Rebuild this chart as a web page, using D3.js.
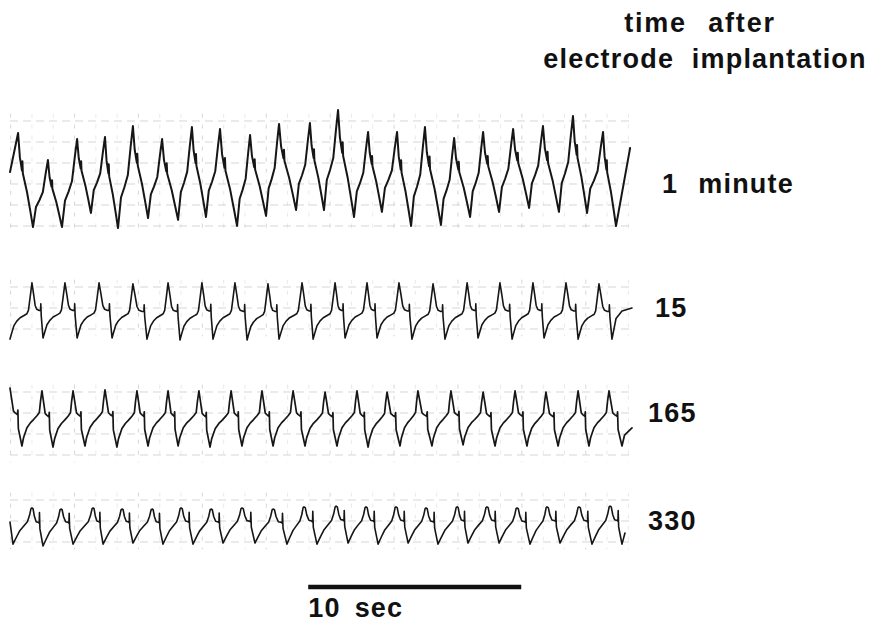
<!DOCTYPE html>
<html>
<head>
<meta charset="utf-8">
<script src="https://cdn.jsdelivr.net/npm/d3@7"></script>
<style>
  html, body { margin: 0; padding: 0; background: #fff; }
  svg { display: block; }
  text { font-family: "Liberation Sans", Arial, Helvetica, sans-serif; font-weight: bold; fill: #111; white-space: pre; }
</style>
</head>
<body>
<svg id="chart" width="873" height="626"></svg>
<script>
// ---------------- DATA (time in seconds, amplitude in chart divisions) ----------------
// Trace labels (time after electrode implantation)
const traceLabels = ["1", "15", "165", "330"];
const labelUnit = "minute";

// Trace 1 : 1 minute
const t1PeakT   = [0.38, 1.78, 3.15, 4.46, 5.77, 7.14, 8.54, 9.86, 11.27, 12.63, 14.08, 15.40, 16.81, 18.17, 19.48, 20.85, 22.21, 23.62, 25.02, 26.43, 27.84];
const t1PeakV   = [4.43, 3.14, 4.14, 4.24, 4.76, 4.14, 4.71, 4.62, 4.33, 4.86, 4.90, 5.52, 4.48, 4.48, 4.71, 4.19, 4.48, 4.62, 4.76, 5.24, 4.48];
const t1TroughT = [1.08, 2.44, 3.80, 5.07, 6.48, 7.89, 9.20, 10.66, 12.02, 13.43, 14.74, 16.15, 17.46, 18.83, 20.23, 21.60, 22.96, 24.37, 25.77, 27.09, 28.45];
const t1TroughV = [-0.05, -0.05, 0.62, -0.10, 0.38, 0.29, 0.43, 0.00, 0.48, 0.76, 0.76, 0.43, 0.67, 0.00, 0.05, 0.43, 0.67, 0.86, 0.67, 0.62, 0.00];
const t1Start = [0.00, 2.57];
const t1End   = [29.11, 3.71];

// Trace 2 : 15 minutes
const t2PeakT   = [1.03, 2.58, 4.18, 5.77, 7.42, 9.01, 10.56, 12.11, 13.71, 15.26, 16.76, 18.26, 19.86, 21.46, 23.00, 24.55, 26.10, 27.65];
const t2PeakV   = [2.20, 2.20, 2.20, 2.15, 2.20, 2.20, 2.20, 2.15, 2.20, 2.20, 2.20, 2.20, 2.15, 2.20, 2.20, 2.20, 2.20, 2.15];
const t2TroughT = [1.55, 3.15, 4.79, 6.43, 7.98, 9.53, 11.13, 12.63, 14.23, 15.73, 17.23, 18.87, 20.42, 21.97, 23.57, 25.07, 26.67, 28.26];
const t2TroughV = [-0.43, -0.43, -0.43, -0.48, -0.52, -0.48, -0.52, -0.48, -0.48, -0.43, -0.43, -0.48, -0.48, -0.43, -0.48, -0.43, -0.48, -0.48];
const t2Start = [0.00, -0.48];
const t2Tail  = [[28.45, 0.50], [28.73, 0.86]];
const t2End   = [29.20, 1.00];

// Trace 3 : 165 minutes
const t3PeakT   = [1.50, 2.96, 4.46, 5.96, 7.42, 8.87, 10.38, 11.83, 13.29, 14.79, 16.29, 17.70, 19.15, 20.70, 22.21, 23.71, 25.16, 26.67, 28.12];
const t3PeakV   = [3.05, 3.05, 3.10, 3.05, 3.05, 3.05, 3.05, 3.05, 3.05, 3.00, 3.05, 3.00, 3.05, 3.05, 3.00, 3.05, 3.00, 3.05, 3.05];
const t3TroughT = [0.56, 2.02, 3.52, 5.02, 6.48, 7.89, 9.39, 10.89, 12.35, 13.85, 15.35, 16.81, 18.31, 19.81, 21.27, 22.77, 24.27, 25.73, 27.18, 28.73];
const t3TroughV = [0.43, 0.38, 0.43, 0.38, 0.43, 0.43, 0.38, 0.43, 0.43, 0.43, 0.43, 0.38, 0.43, 0.43, 0.48, 0.43, 0.43, 0.43, 0.43, 0.43];
const t3Start = [0.00, 3.19];
const t3Tail  = [[28.85, 0.95]];
const t3End   = [29.20, 1.29];

// Trace 4 : 330 minutes
const t4PeakT   = [1.03, 2.39, 3.90, 5.26, 6.67, 8.03, 9.44, 10.89, 12.35, 13.80, 15.31, 16.71, 18.12, 19.53, 20.99, 22.39, 23.80, 25.21, 26.71, 28.17];
const t4PeakV   = [1.62, 1.57, 1.62, 1.57, 1.57, 1.62, 1.57, 1.62, 1.57, 1.67, 1.71, 1.67, 1.67, 1.62, 1.67, 1.67, 1.62, 1.67, 1.67, 1.71];
const t4TroughT = [0.14, 1.55, 2.96, 4.37, 5.77, 7.18, 8.59, 10.00, 11.50, 13.00, 14.41, 15.87, 17.28, 18.69, 20.09, 21.50, 22.96, 24.41, 25.82, 27.32, 28.73];
const t4TroughV = [-0.10, -0.19, -0.10, -0.10, -0.05, -0.10, -0.10, -0.05, -0.05, -0.10, -0.10, -0.05, -0.10, -0.05, -0.10, -0.05, -0.05, -0.10, -0.05, -0.10, -0.10];
const t4Start = [0.00, 0.95];
const t4End   = [28.87, 0.43];

// Waveform shape within a half cycle, read from the tracing:
// [fraction of the time step, fraction of the amplitude step]
const rise1 = [[0.20, 0.30], [0.43, 0.40], [0.66, 0.52], [0.85, 0.80]];
const fall1 = [[0.12, 0.26], [0.26, 0.40], [0.29, 0.30], [0.32, 0.43], [0.60, 0.63], [0.82, 0.83]];
const rise2 = [[0.08, 0.11], [0.18, 0.24], [0.31, 0.32], [0.46, 0.38], [0.64, 0.42], [0.77, 0.45], [0.84, 0.51], [0.92, 0.75]];
const fall2 = [[0.14, 0.19], [0.29, 0.41], [0.43, 0.48], [0.66, 0.50], [0.78, 0.50], [0.80, 0.38], [0.84, 0.60]];
const rise3 = [[0.08, 0.15], [0.25, 0.33], [0.42, 0.42], [0.58, 0.48], [0.75, 0.55], [0.87, 0.61], [0.93, 0.82]];
const fall3 = [[0.14, 0.19], [0.29, 0.40], [0.43, 0.43], [0.62, 0.46], [0.66, 0.38], [0.70, 0.70]];
const rise4 = [[0.18, 0.19], [0.36, 0.37], [0.58, 0.51], [0.76, 0.62], [0.87, 0.79], [0.95, 0.98]];
const fall4 = [[0.10, 0.02], [0.22, 0.22], [0.38, 0.36], [0.60, 0.38], [0.66, 0.40], [0.68, 0.12], [0.72, 0.55]];

// Chart-paper grid lines (divisions) for each trace
const t1Grid = [0, 1, 2, 3, 4, 5];
const t2Grid = [0, 1, 2];
const t3Grid = [0, 1, 2, 3];
const t4Grid = [0, 1, 2];

// Scale bar
const barSeconds = [14, 24];
const barLabel = ["10", "sec"];
const titleLines = ["time after", "electrode implantation"];

// ---------------- DRAWING ----------------
const svg = d3.select("#chart");
const x = d3.scaleLinear().domain([0, 29.2]).range([10, 632]);
const divPx = 21;
function yScale(base) { return d3.scaleLinear().domain([0, 1]).range([base, base - divPx]); }

const traces = [
  { pT: t1PeakT, pV: t1PeakV, tT: t1TroughT, tV: t1TroughV, start: t1Start, startKind: null, tail: [], end: t1End, rise: rise1, fall: fall1, grid: t1Grid, y: yScale(226), sw: 2.0, label: traceLabels[0], lx: 662, ly: 193 },
  { pT: t2PeakT, pV: t2PeakV, tT: t2TroughT, tV: t2TroughV, start: t2Start, startKind: "t", tail: t2Tail, end: t2End, rise: rise2, fall: fall2, grid: t2Grid, y: yScale(329), sw: 1.6, label: traceLabels[1], lx: 655, ly: 317 },
  { pT: t3PeakT, pV: t3PeakV, tT: t3TroughT, tV: t3TroughV, start: t3Start, startKind: "p", tail: t3Tail, end: t3End, rise: rise3, fall: fall3, grid: t3Grid, y: yScale(455), sw: 1.7, label: traceLabels[2], lx: 648, ly: 422 },
  { pT: t4PeakT, pV: t4PeakV, tT: t4TroughT, tV: t4TroughV, start: t4Start, startKind: null, tail: [], end: t4End, rise: rise4, fall: fall4, grid: t4Grid, y: yScale(542), sw: 1.6, label: traceLabels[3], lx: 648, ly: 530 }
];

function buildPoints(tr) {
  const ext = tr.pT.map((t, i) => ({ t, v: tr.pV[i], k: "p" }))
    .concat(tr.tT.map((t, i) => ({ t, v: tr.tV[i], k: "t" })))
    .sort((a, b) => a.t - b.t);
  const pts = [];
  let prev = { t: tr.start[0], v: tr.start[1], k: tr.startKind };
  pts.push(prev);
  ext.forEach(e => {
    let shape = null;
    if (prev.k === "t" && e.k === "p") shape = tr.rise;
    if (prev.k === "p" && e.k === "t") shape = tr.fall;
    if (shape) shape.forEach(([ft, fa]) => pts.push({ t: prev.t + ft * (e.t - prev.t), v: prev.v + fa * (e.v - prev.v) }));
    pts.push(e);
    prev = e;
  });
  tr.tail.forEach(([t, v]) => pts.push({ t, v }));
  pts.push({ t: tr.end[0], v: tr.end[1] });
  return pts;
}

const gridSec = d3.range(0.03, 29.3, 1);
const gGrid = svg.append("g").attr("stroke", "#c4c4c4").attr("stroke-width", 0.7).attr("fill", "none");

traces.forEach(tr => {
  const gmin = d3.min(tr.grid), gmax = d3.max(tr.grid);
  tr.grid.forEach(g => {
    gGrid.append("line").attr("x1", x(0)).attr("x2", x(29.2)).attr("y1", tr.y(g)).attr("y2", tr.y(g))
      .attr("stroke-dasharray", "8,5");
  });
  gridSec.forEach((s, i) => {
    gGrid.append("line").attr("x1", x(s)).attr("x2", x(s))
      .attr("y1", tr.y(gmax + 0.35)).attr("y2", tr.y(gmin - 0.35))
      .attr("stroke-dasharray", "4,7")
      .attr("stroke-opacity", i % 3 === 0 ? 1 : 0.55);
  });
});

traces.forEach(tr => {
  const pts = buildPoints(tr);
  svg.append("path")
    .attr("d", d3.line().x(d => x(d.t)).y(d => tr.y(d.v)).curve(d3.curveLinear)(pts))
    .attr("fill", "none").attr("stroke", "#161616").attr("stroke-width", tr.sw)
    .attr("stroke-linejoin", "round").attr("stroke-linecap", "round");
});

// Labels
const lab = svg.append("g").attr("font-size", 27).attr("letter-spacing", 1.2);
traces.forEach((tr, i) => {
  const t = lab.append("text").attr("x", tr.lx).attr("y", tr.ly);
  t.append("tspan").text(tr.label);
  if (i === 0) t.append("tspan").attr("dx", 20).text(labelUnit);
});

// Title
lab.append("text").attr("x", 700).attr("y", 32).attr("text-anchor", "middle").attr("letter-spacing", 1.8).attr("word-spacing", 12).text(titleLines[0]);
lab.append("text").attr("x", 705).attr("y", 68).attr("text-anchor", "middle").attr("word-spacing", 9).text(titleLines[1]);

// Scale bar
svg.append("line").attr("x1", x(barSeconds[0])).attr("x2", x(barSeconds[1])).attr("y1", 587).attr("y2", 587)
  .attr("stroke", "#111").attr("stroke-width", 4.5);
const bl = lab.append("text").attr("x", x(barSeconds[0])).attr("y", 617);
bl.append("tspan").text(barLabel[0]);
bl.append("tspan").attr("dx", 14).text(barLabel[1]);
</script>
</body>
</html>
